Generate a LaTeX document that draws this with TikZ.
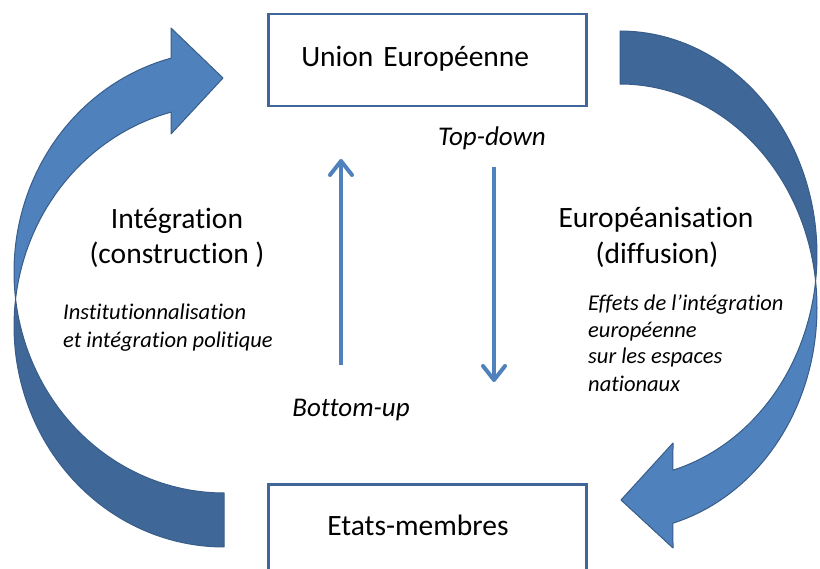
\documentclass[tikz,border=0pt]{standalone}
\usepackage{fontspec}
\setmainfont{Carlito}[Ligatures={NoCommon,NoDiscretionary,NoRare}]
\usetikzlibrary{arrows.meta}
\definecolor{bandlight}{HTML}{4F81BD}
\definecolor{banddark}{HTML}{3F6797}
\definecolor{bandline}{HTML}{385D8A}
\definecolor{boxline}{HTML}{41669A}
\definecolor{thinarrow}{HTML}{4F81BD}
\tikzset{
  big/.style={font=\fontsize{29.5}{35}\selectfont, inner sep=0pt, anchor=base},
  mid/.style={font=\fontsize{27}{32}\selectfont\itshape, inner sep=0pt, anchor=base},
  small/.style={font=\fontsize{22.5}{27}\selectfont\itshape, inner sep=0pt, anchor=base west},
  box/.style={draw=boxline, line width=2.5pt, fill=white, inner sep=0pt, text width=318pt, align=left, font=\fontsize{29.5}{35}\selectfont, anchor=north west},
  band/.style={draw=bandline, line width=1pt, line join=round},
  vert/.style={draw=thinarrow, line width=4pt, -{Straight Barb[length=14pt,width=22pt,line cap=round,line join=round]}},
}
\begin{document}
\begin{tikzpicture}[x=1pt,y=-1pt]
\useasboundingbox (0,0) rectangle (820,569);
\clip (0,0) rectangle (820,569);
% left curved arrow (bottom -> top)
\filldraw[band, fill=bandlight]
  plot[domain=255.4:173, samples=60] ({224+210*cos(\x)},{272+221*sin(\x)})
  -- plot[domain=187:255.4, samples=60] ({224+210*cos(\x)},{326+221*sin(\x)})
  -- (171,134) -- (223,78) -- (171,28) -- cycle;
\filldraw[band, fill=banddark]
  plot[domain=173:90, samples=60] ({224+210*cos(\x)},{272+221*sin(\x)})
  -- plot[domain=90:187, samples=60] ({224+210*cos(\x)},{326+221*sin(\x)})
  -- cycle;
% right curved arrow (top -> bottom)
\filldraw[band, fill=banddark]
  plot[domain=-90:6.8, samples=60] ({620+197*cos(\x)},{254.7+223.7*sin(\x)})
  -- plot[domain=-6.8:-90, samples=60] ({620+197*cos(\x)},{307.7+223.7*sin(\x)})
  -- cycle;
\filldraw[band, fill=bandlight]
  plot[domain=6.8:74.4, samples=60] ({620+197*cos(\x)},{254.7+223.7*sin(\x)})
  -- (673,443) -- (621,500) -- (673,548)
  -- plot[domain=74.4:-6.8, samples=60] ({620+197*cos(\x)},{307.7+223.7*sin(\x)})
  -- cycle;
% boxes
\node[box, text height=52pt, text depth=40pt] (ue) at (267,13) {\hspace*{33pt}Union Européenne};
\node[box, text height=51pt, text depth=70pt] (em) at (267,483) {\hspace*{59pt}Etats-membres};
% vertical arrows
\coordinate (bus) at (341,365);
\coordinate (bue) at (341,159);
\coordinate (tds) at (494,167);
\coordinate (tde) at (494,382);
\draw[vert] (bus) -- (bue);
\draw[vert] (tds) -- (tde);
% labels
\node[mid] (td) at (492,146) {Top-down};
\node[mid] (bu) at (351,417) {Bottom-up};
\node[big] (integ) at (177,229) {Intégration};
\node[big] (constr) at (177,264) {(construction )};
\node[big] (europ) at (656,228) {Européanisation};
\node[big] (diff) at (657,264) {(diffusion)};
\node[small] (inst1) at (63,320) {Institutionnalisation};
\node[small] (inst2) at (63,348) {et intégration politique};
\node[small] (eff1) at (588,311) {Effets de l’intégration};
\node[small] (eff2) at (588,338) {européenne};
\node[small] (eff3) at (588,364) {sur les espaces};
\node[small] (eff4) at (588,392) {nationaux};
\end{tikzpicture}
\end{document}
